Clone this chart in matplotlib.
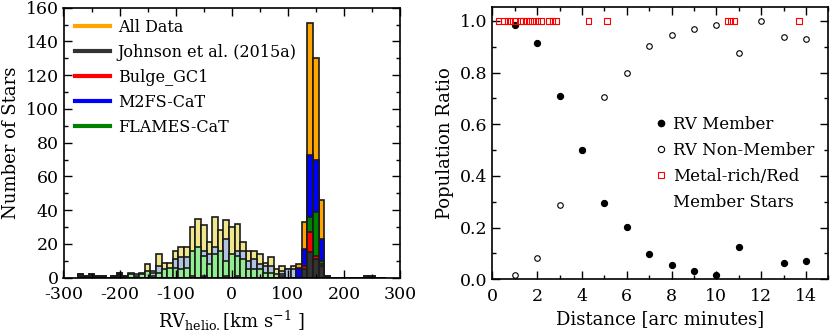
import matplotlib
matplotlib.use("Agg")
import matplotlib.pyplot as plt
from matplotlib.lines import Line2D
from matplotlib.ticker import MultipleLocator

plt.rcParams['font.family'] = ['DejaVu Serif']
plt.rcParams['mathtext.fontset'] = 'dejavuserif'
plt.rcParams['axes.unicode_minus'] = False
plt.rcParams['ytick.alignment'] = 'center_baseline'

# ---------------- Histogram data (bin centres, km/s; bin width 10) ----------------
bin_centers = list(range(-270, 271, 10))
bin_width = 10

# non-members (pale colours)
nm_all = [2, 1, 2, 1, 1, 0, 1, 3, 1, 3, 2, 3, 8, 4, 14, 9, 9, 16, 18, 18,
          30, 35, 31, 21, 36, 28, 34, 30, 32, 21, 16, 16, 14, 9, 12, 5, 7, 5, 7, 0,
          0, 0, 0, 0, 1, 0, 0, 0, 0, 0, 0, 1, 1, 0, 0]
nm_m2fs = [0, 0, 0, 0, 0, 0, 0, 0, 0, 0, 1, 0, 0, 3, 7, 0, 0, 11, 12, 12,
           0, 0, 16, 14, 18, 0, 23, 0, 16, 16, 10, 11, 8, 7, 7, 0, 4, 5, 5, 0,
           0, 0, 0, 0, 0, 0, 0, 0, 0, 0, 0, 0, 0, 0, 0]
nm_flames = [0, 0, 0, 0, 0, 0, 0, 0, 0, 2, 0, 2, 4, 1, 3, 5, 6, 6, 5, 6,
             16, 18, 13, 8, 14, 16, 10, 14, 13, 11, 5, 5, 5, 3, 3, 2, 2, 0, 0, 0,
             0, 0, 0, 0, 0, 0, 0, 0, 0, 0, 0, 0, 0, 0, 0]
nm_bulge = [0, 0, 0, 0, 0, 0, 0, 0, 0, 0, 0, 0, 0, 0, 0, 0, 0, 0, 0, 0,
            1, 0, 1, 0, 0, 0, 1, 0, 1, 0, 0, 0, 0, 0, 0, 0, 1, 0, 0, 0,
            0, 0, 0, 0, 0, 0, 0, 0, 0, 0, 0, 0, 0, 0, 0]
nm_johnson = [2, 1, 2, 1, 1, 0, 1, 3, 1, 0, 0, 0, 0, 0, 0, 0, 0, 0, 0, 0,
              0, 0, 0, 0, 0, 0, 0, 0, 0, 0, 0, 0, 0, 0, 0, 0, 0, 0, 0, 0,
              0, 0, 0, 0, 1, 0, 0, 0, 0, 0, 0, 1, 1, 0, 0]

# members (saturated colours)
m_all = [0] * 39 + [8, 33, 151, 130, 46] + [0] * 11
m_m2fs = [0] * 39 + [6, 17, 73, 70, 23] + [0] * 11
m_flames = [0] * 39 + [0, 5, 36, 39, 10] + [0] * 11
m_bulge = [0] * 39 + [0, 7, 27, 13, 8] + [0] * 11
m_johnson = [0] * 39 + [0, 5, 15, 11, 7] + [0] * 11

legend_labels = ["All Data", "Johnson et al. (2015a)", "Bulge_GC1", "M2FS-CaT", "FLAMES-CaT"]

# ---------------- Population ratio data ----------------
dist_member = [1, 2, 3, 4, 5, 6, 7, 8, 9, 10, 11, 13, 14]
ratio_member = [0.986, 0.916, 0.711, 0.500, 0.294, 0.202, 0.096, 0.055, 0.033, 0.015, 0.125, 0.063, 0.072]
dist_nonmember = [1, 2, 3, 4, 5, 6, 7, 8, 9, 10, 11, 12, 13, 14]
ratio_nonmember = [0.015, 0.083, 0.288, 0.500, 0.705, 0.798, 0.903, 0.945, 0.967, 0.985, 0.876, 1.0, 0.938, 0.929]
dist_metalrich = [0.27, 0.52, 0.67, 0.82, 1.01, 1.24, 1.38, 1.53, 1.68, 1.83, 2.01, 2.17,
                  2.53, 2.69, 2.84, 4.30, 5.13, 10.49, 10.64, 10.80, 13.70]
ratio_metalrich = [1.0] * len(dist_metalrich)

# ---------------- Figure ----------------
W, H = 831, 335
fig = plt.figure(figsize=(W / 100, H / 100), dpi=100)

def ax_rect(l, r, t, b):
    return [l / W, 1 - b / H, (r - l) / W, (b - t) / H]

ax1 = fig.add_axes(ax_rect(63.5, 400, 7.7, 277.7))
ax2 = fig.add_axes(ax_rect(492.3, 828.4, 6.7, 279.2))

edge = dict(edgecolor='#1a1a1a', linewidth=1.2, width=bin_width, align='center')
layers = [
    (nm_all, '#F0E68C'), (nm_m2fs, '#B0C4DE'), (nm_flames, '#90EE90'),
    (nm_bulge, '#FF69B4'), (nm_johnson, '#222222'),
    (m_all, '#FFA500'), (m_m2fs, '#0000FF'), (m_flames, '#008000'),
    (m_bulge, '#FF0000'), (m_johnson, '#333333'),
]
for vals, col in layers:
    ax1.bar(bin_centers, vals, color=col, **edge)

ax1.set_xlim(-300, 300)
ax1.set_ylim(0, 160)
ax1.xaxis.set_major_locator(MultipleLocator(100))
ax1.xaxis.set_minor_locator(MultipleLocator(50))
ax1.yaxis.set_major_locator(MultipleLocator(20))
ax1.yaxis.set_minor_locator(MultipleLocator(10))
ax1.set_ylabel("Number of Stars", fontsize=13)
ax1.set_xlabel(r"RV$_{\mathrm{helio.}}$[km s$^{-1}$ ]", fontsize=13)

handles1 = [Line2D([], [], color=c, lw=3) for c in ['#FFA500', '#333333', '#FF0000', '#0000FF', '#008000']]
ax1.legend(handles1, legend_labels, loc='upper left', frameon=False, fontsize=11.5,
           handlelength=2.2, handletextpad=0.5, labelspacing=0.5,
           borderaxespad=0.5, borderpad=0.2)

ax2.scatter(dist_nonmember, ratio_nonmember, s=16, facecolors='white', edgecolors='black',
            linewidths=0.8, zorder=3, label="RV Non-Member")
ax2.scatter(dist_member, ratio_member, s=18, color='black', zorder=4, label="RV Member")
ax2.scatter(dist_metalrich, ratio_metalrich, s=16, marker='s', facecolors='none',
            edgecolors='red', linewidths=0.8, zorder=5, label="Metal-rich/Red")
ax2.set_xlim(0, 15)
ax2.set_ylim(0, 1.055)
ax2.xaxis.set_major_locator(MultipleLocator(2))
ax2.xaxis.set_minor_locator(MultipleLocator(1))
ax2.yaxis.set_major_locator(MultipleLocator(0.2))
ax2.yaxis.set_minor_locator(MultipleLocator(0.1))
ax2.set_ylabel("Population Ratio", fontsize=13)
ax2.set_xlabel("Distance [arc minutes]", fontsize=13)

h_mem = Line2D([], [], ls='none', marker='o', color='black', markersize=4.5)
h_non = Line2D([], [], ls='none', marker='o', markerfacecolor='white', markeredgecolor='black',
               markersize=4.5, markeredgewidth=0.8)
h_mr = Line2D([], [], ls='none', marker='s', markerfacecolor='none', markeredgecolor='red',
              markersize=4.5, markeredgewidth=0.8)
h_blank = Line2D([], [], ls='none')
ax2.legend([h_mem, h_non, h_mr, h_blank],
           ["RV Member", "RV Non-Member", "Metal-rich/Red", "Member Stars"],
           loc='upper left', bbox_to_anchor=(0.481, 0.599), frameon=False, fontsize=12,
           handlelength=0.8, handletextpad=0.32, labelspacing=0.55, borderpad=0,
           borderaxespad=0)

for ax in (ax1, ax2):
    ax.tick_params(which='both', direction='in', top=True, right=True, labelsize=12.5)
    ax.tick_params(which='major', length=6, width=1)
    ax.tick_params(which='minor', length=3, width=1)
    ax.tick_params(axis='x', which='major', pad=6)
    for s in ax.spines.values():
        s.set_linewidth(1.2)

fig.savefig("out.png", dpi=100)
